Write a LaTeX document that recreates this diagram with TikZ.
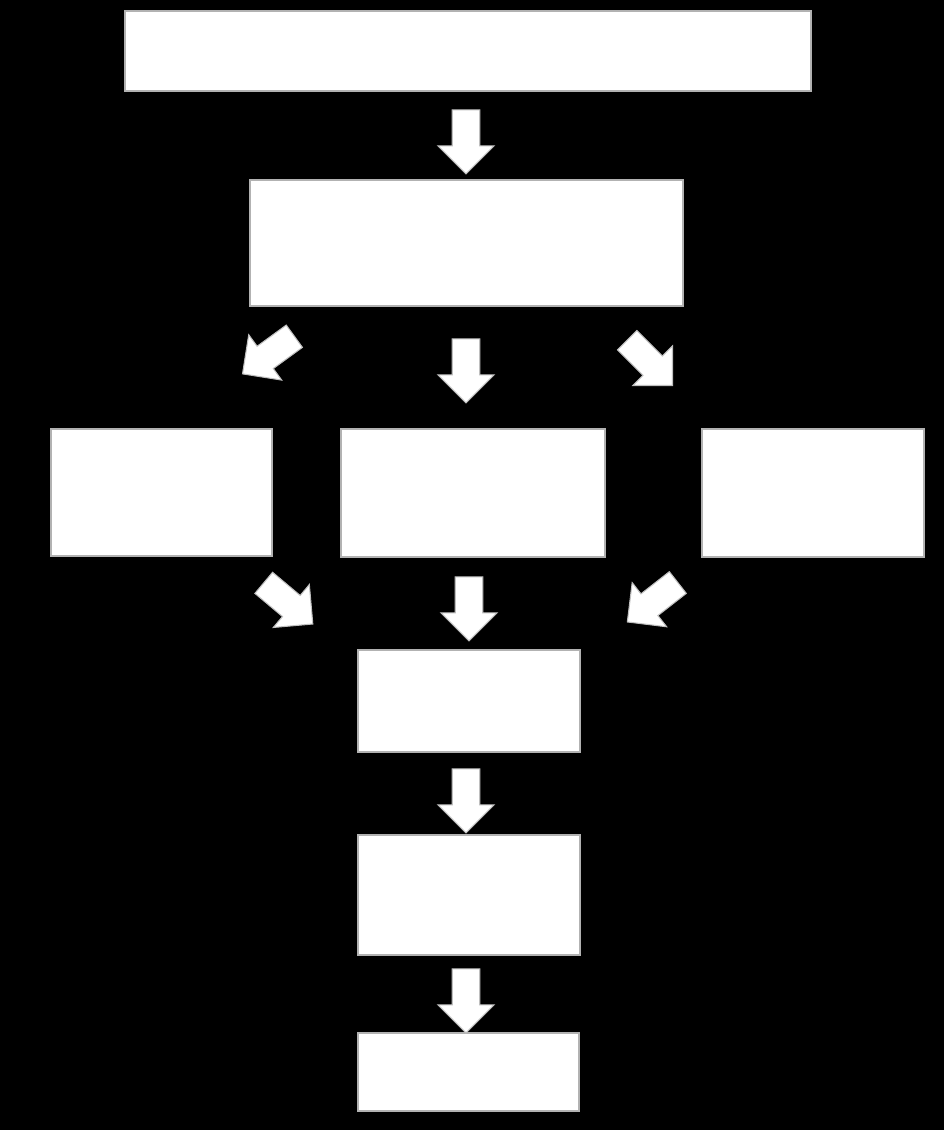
\documentclass[tikz,border=0pt]{standalone}
\usetikzlibrary{shapes.arrows}
\tikzset{
  box/.style={fill=white,draw=gray!60,line width=0.4pt},
  blockarrow/.style={single arrow,fill=white,draw=gray!50,line width=0.3pt,inner sep=0.13cm,
    minimum width=0.56cm,single arrow head extend=0.14cm,minimum height=0.64cm,anchor=center}
}
\begin{document}
\begin{tikzpicture}[x=0.01cm,y=-0.01cm]
  \fill[black] (0,0) rectangle (944,1130);
  % boxes
  \draw[box] (125,11) rectangle (811,91);
  \draw[box] (250,180) rectangle (683,306);
  \draw[box] (51,429) rectangle (272,556);
  \draw[box] (341,429) rectangle (605,557);
  \draw[box] (702,429) rectangle (924,557);
  \draw[box] (358,650) rectangle (580,752);
  \draw[box] (358,835) rectangle (580,955);
  \draw[box] (358,1033) rectangle (579,1111);
  % arrows
  \node[blockarrow,rotate=-90] (a1) at (466,135) {};
  \node[blockarrow,rotate=216] (a2) at (274,351) {};
  \node[blockarrow,rotate=-90] (a3) at (466,364) {};
  \node[blockarrow,rotate=-45] (a4) at (645,358) {};
  \node[blockarrow,rotate=-40] (a5) at (283,599) {};
  \node[blockarrow,rotate=-90] (a6) at (469,602) {};
  \node[blockarrow,rotate=218] (a7) at (658,598) {};
  \node[blockarrow,rotate=-90] (a8) at (466,794) {};
  \node[blockarrow,rotate=-90] (a9) at (466,994) {};
\end{tikzpicture}
\end{document}
